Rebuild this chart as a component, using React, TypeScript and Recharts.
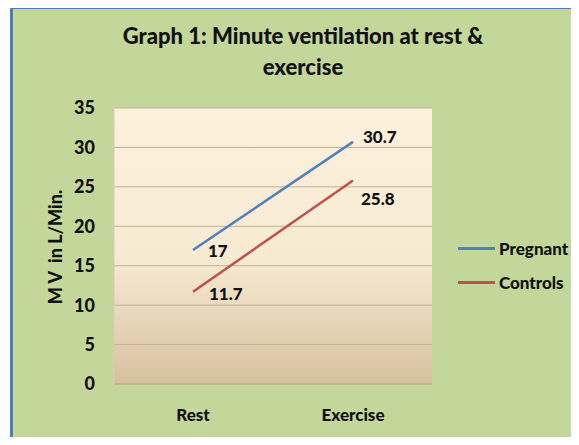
import React from 'react'
import { LineChart, Line, XAxis, YAxis, CartesianGrid, Legend, LabelList } from 'recharts'

const categories = ['Rest', 'Exercise']
const pregnant = [17, 30.7]
const controls = [11.7, 25.8]
const yTicks = [0, 5, 10, 15, 20, 25, 30, 35]
const seriesOrder = ['Pregnant', 'Controls']

const data = categories.map((name, i) => ({
  name,
  pregnant: pregnant[i],
  controls: controls[i],
}))

const FONT = 'Lato, "Open Sans", sans-serif'

// label offsets picked by eye from the original
function makeLabel(offsets: Array<[number, number]>) {
  return (props: any) => {
    const { x, y, value, index } = props
    const [dx, dy] = offsets[index] || [10, 0]
    return (
      <text
        x={x + dx}
        y={y + dy}
        dominantBaseline="central"
        fontFamily={FONT}
        fontWeight={900}
        fontSize={17}
        fill="#111"
      >
        {value}
      </text>
    )
  }
}

function LegendBox({ payload }: any) {
  const items = [...(payload || [])].sort(
    (a: any, b: any) => seriesOrder.indexOf(a.value) - seriesOrder.indexOf(b.value)
  )
  return (
    <div style={{ fontFamily: FONT, fontWeight: 900, fontSize: 17, color: '#111' }}>
      {items.map((p: any) => (
        <div key={p.value} style={{ display: 'flex', alignItems: 'center', height: 34 }}>
          <span style={{ display: 'inline-block', width: 37, height: 3, background: p.color, marginRight: 4 }} />
          {p.value}
        </div>
      ))}
    </div>
  )
}

function YLabel() {
  return (
    <text
      x={0}
      y={0}
      transform="translate(55, 247) rotate(-90)"
      textAnchor="middle"
      dominantBaseline="central"
      fontFamily={FONT}
      fontWeight={900}
      fontSize={18}
      fill="#111"
      style={{ whiteSpace: 'pre' }}
    >
      {'M V  in L/Min.'}
    </text>
  )
}

export default function App() {
  return (
    <div style={{ position: 'relative', width: 579, height: 445, margin: -8, background: '#fff', overflow: 'hidden' }}>
      <div
        style={{
          position: 'absolute',
          left: 10,
          top: 6,
          width: 600,
          height: 460,
          background: '#c4d79b',
          borderLeft: '3px solid #4a7ebb',
          borderTop: '3px solid #4a7ebb',
        }}
      />
      <div
        style={{
          position: 'absolute',
          left: 0,
          width: 606,
          top: 20,
          textAlign: 'center',
          fontFamily: FONT,
          fontWeight: 900,
          fontSize: 22,
          lineHeight: '31px',
          color: '#111',
        }}
      >
        Graph 1: Minute ventilation at rest &amp;
        <br />
        exercise
      </div>
      <div style={{ position: 'absolute', left: 0, top: 0 }}>
        <LineChart width={579} height={445} data={data} margin={{ top: 108, right: 147, bottom: 31, left: 84 }}>
          <defs>
            <linearGradient id="plotBg" x1="0" y1="0" x2="0" y2="1">
              <stop offset="0%" stopColor="#fdf1dc" />
              <stop offset="55%" stopColor="#f6ead3" />
              <stop offset="100%" stopColor="#d6c09d" />
            </linearGradient>
          </defs>
          <CartesianGrid vertical={false} stroke="#c2b394" fill="url(#plotBg)" fillOpacity={1} />
          <XAxis
            dataKey="name"
            height={30}
            padding={{ left: 79, right: 79 }}
            axisLine={{ stroke: '#bcae90' }}
            tickLine={false}
            tickSize={0}
            tickMargin={25}
            tick={{ fontFamily: FONT, fontWeight: 900, fontSize: 17, fill: '#111' }}
          />
          <YAxis
            width={30}
            domain={[0, 35]}
            ticks={yTicks}
            axisLine={{ stroke: '#d8ccb0' }}
            tickLine={false}
            tickSize={0}
            tickMargin={19}
            tick={{ fontFamily: FONT, fontWeight: 900, fontSize: 18, fill: '#111' }}
            label={<YLabel />}
          />
          <Legend
            layout="vertical"
            align="center"
            verticalAlign="middle"
            wrapperStyle={{ position: 'absolute', left: 458, top: 231, width: 120 }}
            content={<LegendBox />}
          />
          <Line
            dataKey="pregnant"
            name="Pregnant"
            stroke="#4f81bd"
            strokeWidth={2.5}
            dot={false}
            isAnimationActive={false}
          >
            <LabelList dataKey="pregnant" content={makeLabel([[15, 1], [10, -5]])} />
          </Line>
          <Line
            dataKey="controls"
            name="Controls"
            stroke="#c0504d"
            strokeWidth={2.5}
            dot={false}
            isAnimationActive={false}
          >
            <LabelList dataKey="controls" content={makeLabel([[16, 2], [8, 18]])} />
          </Line>
        </LineChart>
      </div>
    </div>
  )
}
